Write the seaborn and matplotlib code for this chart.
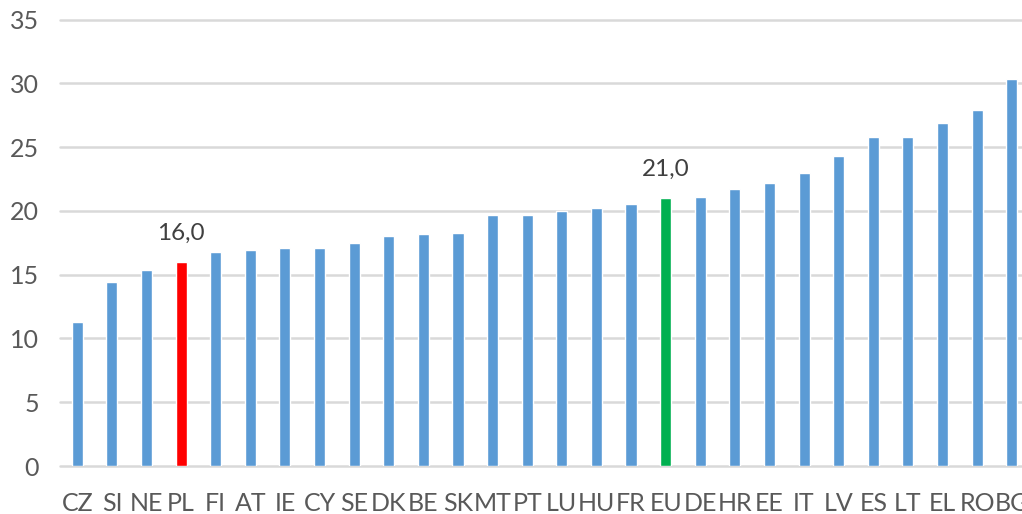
import matplotlib
matplotlib.use("Agg")
import matplotlib.pyplot as plt
import seaborn as sns
import pandas as pd

countries = ["CZ", "SI", "NE", "PL", "FI", "AT", "IE", "CY", "SE", "DK", "BE", "SK", "MT", "PT",
             "LU", "HU", "FR", "EU", "DE", "HR", "EE", "IT", "LV", "ES", "LT", "EL", "RO", "BG"]
values = [11.3, 14.4, 15.4, 16.0, 16.8, 16.9, 17.1, 17.1, 17.5, 18.0, 18.2, 18.3, 19.7, 19.7,
          20.0, 20.2, 20.5, 21.0, 21.1, 21.7, 22.2, 23.0, 24.3, 25.8, 25.8, 26.9, 27.9, 30.3]
highlight = {"PL": "#ff0000", "EU": "#00b050"}
labelled = ["PL", "EU"]
yticks = [0, 5, 10, 15, 20, 25, 30, 35]

sns.set_theme(style="white")
plt.rcParams["font.family"] = ["Lato", "DejaVu Sans"]

df = pd.DataFrame({"country": countries, "value": values})
palette = {c: highlight.get(c, "#5b9bd5") for c in countries}

fig = plt.figure(figsize=(10.22, 5.14), dpi=100)
ax = fig.add_axes([60 / 1022, 48 / 514, 969 / 1022, 446.5 / 514])

sns.barplot(data=df, x="country", y="value", hue="country", palette=palette,
            width=0.32, legend=False, ax=ax, saturation=1, zorder=3)

ax.set_ylim(0, 35)
ax.set_xlim(-0.5, len(countries) - 0.5)
ax.set_yticks(yticks)
ax.set_yticklabels([str(t) for t in yticks])
for t in yticks:
    ax.axhline(t, color="#d9d9d9", lw=1.8, zorder=1, clip_on=False)
ax.grid(False)
for s in ax.spines.values():
    s.set_visible(False)
ax.set_xlabel("")
ax.set_ylabel("")
ax.tick_params(axis="y", length=0, pad=15, labelsize=18, labelcolor="#595959")
ax.tick_params(axis="x", length=0, pad=19, labelsize=18, labelcolor="#595959")

for c in labelled:
    i = countries.index(c)
    v = values[i]
    ax.annotate(f"{v:.1f}".replace(".", ","), (i, v), xytext=(0, 13),
                textcoords="offset points", ha="center", va="bottom",
                fontsize=17.5, color="#404040")

fig.savefig("out.png", dpi=100)
